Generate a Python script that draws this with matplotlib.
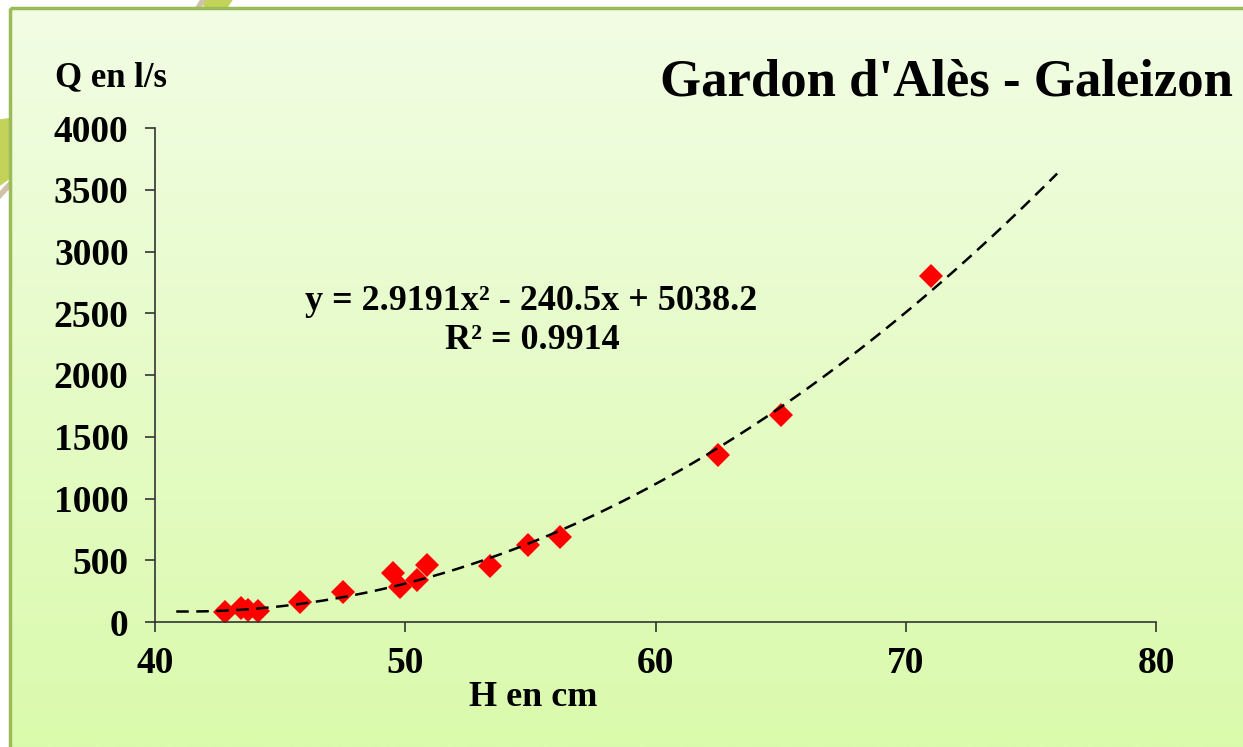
import matplotlib
matplotlib.use('Agg')
import matplotlib.pyplot as plt
from matplotlib.patches import Polygon, Rectangle
import numpy as np

plt.rcParams['font.family'] = ['Liberation Serif', 'DejaVu Serif']
plt.rcParams['font.weight'] = 'bold'

# measured points (H in cm, Q in l/s)
h_cm = [42.8, 43.45, 43.7, 44.1, 45.8, 47.5, 49.5, 49.8, 50.45, 50.85,
        53.4, 54.9, 56.2, 62.5, 65.0, 71.0]
q_ls = [83, 111, 97, 92, 165, 246, 394, 286, 340, 462,
        450, 620, 686, 1350, 1675, 2800]

# polynomial trend line
coef = [2.9191, -240.5, 5038.2]
r2 = 0.9914
trend_range = [40.85, 76.05]

title = "Gardon d'Alès - Galeizon"
x_ticks = [40, 50, 60, 70, 80]
y_ticks = [0, 500, 1000, 1500, 2000, 2500, 3000, 3500, 4000]

W, H = 1243, 747
fig = plt.figure(figsize=(W / 100, H / 100), dpi=100)
fig.patch.set_facecolor('white')

# background panel with vertical gradient
bg = fig.add_axes([0, 0, 1, 1])
bg.set_xlim(0, W)
bg.set_ylim(H, 0)
bg.axis('off')
# decoration behind the panel
bg.add_patch(Polygon([[203, 0], [232, 0], [222, 14], [206, 14]], closed=True,
                     color='#c3d35a', zorder=0))
bg.add_patch(Polygon([[0, 120], [14, 118], [14, 175], [0, 185]], closed=True,
                     color='#c3d35a', zorder=0))
bg.plot([0, 14], [195, 180], color='#cfc2a6', lw=4, zorder=0)
bg.plot([197, 203], [10, 0], color='#cfc2a6', lw=4, zorder=0)
top_col = np.array([242, 253, 228]) / 255
bot_col = np.array([218, 250, 172]) / 255
t = np.linspace(0, 1, 256)[:, None]
grad = (top_col[None, :] * (1 - t) + bot_col[None, :] * t)[:, None, :]
bg.imshow(grad, extent=[10, W, H, 8], aspect='auto', zorder=1)
bg.add_patch(Rectangle((10, 8), W, H, fill=False, edgecolor='#9bbb59', lw=2.5, zorder=2))

ax = fig.add_axes([155 / W, 1 - 622 / H, (1156 - 155) / W, (622 - 128) / H])
ax.patch.set_alpha(0)

xs = np.linspace(trend_range[0], trend_range[1], 300)
ax.plot(xs, np.polyval(coef, xs), color='black', lw=1.8, dashes=(5, 3), zorder=3)
ax.plot(h_cm, q_ls, linestyle='none', marker='D', ms=12, color='#ff0000',
        markeredgewidth=0, zorder=2)

ax.set_xlim(40, 80)
ax.set_ylim(0, 4000)
ax.set_xticks(x_ticks)
ax.set_yticks(y_ticks)
for s in ['top', 'right']:
    ax.spines[s].set_visible(False)
for s in ['left', 'bottom']:
    ax.spines[s].set_color('#333333')
    ax.spines[s].set_linewidth(1.2)
ax.tick_params(axis='both', direction='out', length=7, width=1.2, color='#333333',
               labelsize=27, pad=12)
ax.tick_params(axis='x', pad=10)

fig.text(531 / W, 1 - 310 / H, 'y = 2.9191x² - 240.5x + 5038.2',
         ha='center', va='baseline', fontsize=26, fontweight='bold')
fig.text(532 / W, 1 - 349 / H, 'R² = %.4f' % r2,
         ha='center', va='baseline', fontsize=26, fontweight='bold')

fig.text(55 / W, 1 - 86 / H, 'Q en l/s', ha='left', va='baseline', fontsize=25, fontweight='bold')
fig.text(533 / W, 1 - 706 / H, 'H en cm', ha='center', va='baseline', fontsize=26, fontweight='bold')
fig.text(660 / W, 1 - 95 / H, title, ha='left', va='baseline', fontsize=38, fontweight='bold')

fig.savefig('out.png', dpi=100)
